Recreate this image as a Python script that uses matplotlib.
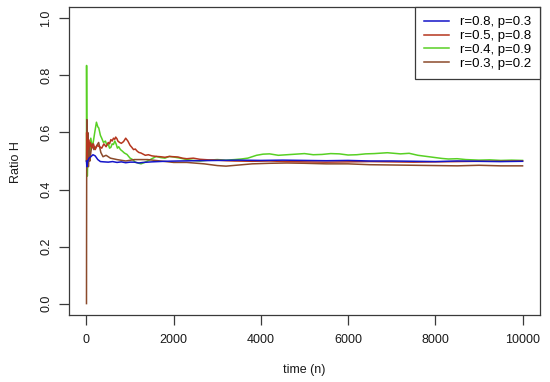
import matplotlib
matplotlib.use("Agg")
import matplotlib.pyplot as plt

plt.rcParams['font.family'] = ['Liberation Sans', 'DejaVu Sans']

labels = ["r=0.8, p=0.3", "r=0.5, p=0.8", "r=0.4, p=0.9", "r=0.3, p=0.2"]
colors = ["#1414C8", "#B5361E", "#58D024", "#8B4A2B"]

blue_n = [1, 10, 30, 60, 100, 150, 200, 260, 320, 400, 500, 600, 700, 800, 900, 1000,
          1100, 1200, 1300, 1500, 1800, 2100, 2500, 3000, 3500, 4000, 4500, 5000, 5500,
          6000, 6500, 7000, 7500, 8000, 8500, 9000, 9500, 10000]
blue_v = [0.5, 0.48, 0.5, 0.51, 0.515, 0.522, 0.518, 0.505, 0.498, 0.497, 0.496, 0.498,
          0.495, 0.497, 0.494, 0.496, 0.496, 0.493, 0.495, 0.497, 0.499, 0.5, 0.501,
          0.502, 0.503, 0.502, 0.503, 0.502, 0.501, 0.502, 0.5, 0.5, 0.499, 0.498, 0.5,
          0.499, 0.498, 0.499]

red_n = [1, 5, 12, 20, 35, 50, 70, 90, 120, 160, 200, 250, 300, 350, 400, 450, 500, 530,
         560, 590, 620, 650, 670, 700, 720, 760, 800, 850, 880, 900, 950, 1000, 1040,
         1080, 1120, 1160, 1200, 1250, 1300, 1350, 1420, 1500, 1600, 1700, 1800, 1900,
         2000, 2100, 2200, 2300, 2450, 2600, 2800, 3000, 3200, 3400, 3800, 4200, 4600,
         5000, 5500, 6000, 6500, 7000, 7500, 8000, 8500, 9000, 9500, 10000]
red_v = [0.5, 0.6, 0.5, 0.56, 0.54, 0.575, 0.55, 0.565, 0.545, 0.56, 0.54, 0.555, 0.55,
         0.545, 0.56, 0.55, 0.565, 0.56, 0.575, 0.57, 0.58, 0.576, 0.584, 0.578, 0.57,
         0.565, 0.562, 0.568, 0.575, 0.58, 0.57, 0.555, 0.548, 0.54, 0.542, 0.535, 0.53,
         0.528, 0.524, 0.52, 0.522, 0.518, 0.516, 0.515, 0.513, 0.516, 0.515, 0.514,
         0.51, 0.508, 0.51, 0.506, 0.504, 0.503, 0.501, 0.5, 0.499, 0.5, 0.498, 0.497,
         0.496, 0.497, 0.498, 0.497, 0.496, 0.497, 0.498, 0.499, 0.499, 0.5]

green_n = [1, 3, 8, 20, 40, 70, 100, 130, 150, 190, 229, 260, 282, 320, 350, 390, 435,
           470, 500, 530, 560, 590, 620, 650, 680, 710, 740, 780, 820, 870, 930, 1000,
           1060, 1120, 1180, 1250, 1320, 1400, 1500, 1600, 1700, 1800, 1900, 2000, 2150,
           2300, 2450, 2600, 2800, 3000, 3200, 3400, 3550, 3700, 3900, 4050, 4200, 4400,
           4600, 4800, 5000, 5200, 5400, 5600, 5800, 6000, 6200, 6400, 6600, 6900, 7200,
           7400, 7600, 7800, 8000, 8150, 8300, 8500, 8700, 9000, 9250, 9500, 9750, 10000]
green_v = [0.5, 0.835, 0.6, 0.447, 0.55, 0.5, 0.58, 0.55, 0.56, 0.6, 0.636, 0.62, 0.616,
           0.59, 0.58, 0.565, 0.57, 0.555, 0.56, 0.545, 0.548, 0.56, 0.558, 0.57, 0.56,
           0.545, 0.55, 0.54, 0.535, 0.528, 0.523, 0.51, 0.505, 0.496, 0.493, 0.49, 0.494,
           0.5, 0.508, 0.516, 0.512, 0.51, 0.516, 0.514, 0.51, 0.505, 0.502, 0.5, 0.503,
           0.505, 0.503, 0.505, 0.507, 0.51, 0.52, 0.524, 0.525, 0.52, 0.522, 0.524, 0.526,
           0.522, 0.523, 0.526, 0.525, 0.521, 0.522, 0.525, 0.526, 0.529, 0.525, 0.527,
           0.52, 0.516, 0.512, 0.509, 0.507, 0.508, 0.505, 0.503, 0.504, 0.502, 0.503,
           0.502]

brown_n = [1, 3, 5, 10, 20, 30, 45, 60, 80, 100, 130, 170, 220, 280, 330, 380, 450, 550,
           700, 900, 1100, 1400, 1700, 2000, 2300, 2700, 3000, 3200, 3500, 3800, 4200,
           4600, 5000, 5500, 6000, 6500, 7000, 7500, 8000, 8500, 9000, 9500, 10000]
brown_v = [0.0, 0.25, 0.43, 0.645, 0.5, 0.6, 0.48, 0.55, 0.5, 0.53, 0.56, 0.54, 0.55,
           0.565, 0.53, 0.515, 0.52, 0.51, 0.505, 0.5, 0.505, 0.505, 0.5, 0.495, 0.495,
           0.49, 0.484, 0.482, 0.486, 0.49, 0.492, 0.493, 0.492, 0.49, 0.49, 0.487, 0.486,
           0.485, 0.484, 0.483, 0.485, 0.483, 0.483]

series = [(blue_n, blue_v), (red_n, red_v), (green_n, green_v), (brown_n, brown_v)]

x_ticks = [0, 2000, 4000, 6000, 8000, 10000]
y_ticks = [0.0, 0.2, 0.4, 0.6, 0.8, 1.0]

fig = plt.figure(figsize=(5.5, 3.82), dpi=100)
ax = fig.add_axes([69/550, 1 - 315/382, (540-69)/550, (315-7)/382])

order = [2, 3, 1, 0]
handles = [None]*4
for i in order:
    n, v = series[i]
    h, = ax.plot(n, v, color=colors[i], lw=1.1, label=labels[i])
    handles[i] = h

ax.set_xlim(-400, 10400)
ax.set_ylim(-0.04, 1.04)
ax.set_xticks(x_ticks)
ax.set_xticklabels([str(t) for t in x_ticks])
ax.set_yticks(y_ticks)
ax.set_yticklabels(["%.1f" % t for t in y_ticks])

for s in ax.spines.values():
    s.set_color("#3a3a3a")
    s.set_linewidth(0.9)
ax.tick_params(axis='both', direction='out', length=7, width=0.9, color="#3a3a3a",
               labelsize=9, labelcolor="#1a1a1a")
ax.tick_params(axis='x', pad=7)
ax.tick_params(axis='y', pad=5, labelrotation=90)
for lab in ax.get_yticklabels():
    lab.set_va('center')

ax.set_xlabel("time (n)", fontsize=9, color="#1a1a1a")
ax.set_ylabel("Ratio H", fontsize=9, color="#1a1a1a")
ax.xaxis.set_label_coords(0.5 - (0.5*471 - (304-69))/471, -55/308)
ax.yaxis.set_label_coords((16-69)/471, 1 - (162-7)/308)
ax.xaxis.label.set_va('center')
ax.yaxis.label.set_va('center')

leg = ax.legend(handles=handles, labels=labels, loc='upper right', bbox_to_anchor=(1, 1),
                borderaxespad=0, fancybox=False, edgecolor="#3a3a3a", framealpha=1,
                fontsize=9.5, handlelength=1.9, handletextpad=0.8, labelspacing=0.12,
                borderpad=0.7)
leg.get_frame().set_linewidth(0.9)

fig.savefig("out.png", dpi=100)
